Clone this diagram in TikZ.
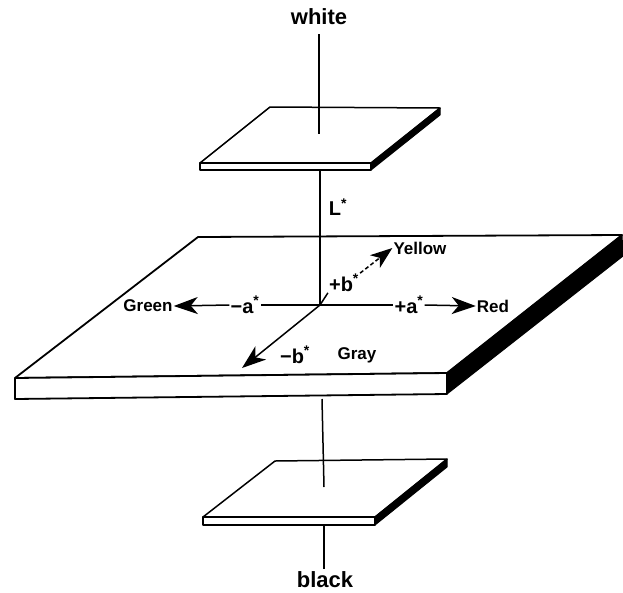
\documentclass[tikz,border=0pt]{standalone}
\usepackage{fontspec}
\setmainfont{Liberation Sans}
\usetikzlibrary{arrows.meta}
\begin{document}
\begin{tikzpicture}[x=1pt,y=-1pt,
  plate/.style={draw=black,line width=1.5pt,fill=white,line join=round},
  bigplate/.style={draw=black,line width=1.8pt,fill=white,line join=round},
  side/.style={draw=black,line width=1pt,fill=black,line join=round},
  pole/.style={line width=1.5pt},
  axis/.style={line width=1.5pt},
  arr/.style={line width=1.5pt,-{Stealth[length=24pt,width=17pt,inset=7pt]}},
  darr/.style={line width=1.5pt,dash pattern=on 4pt off 2.5pt,-{Stealth[length=22pt,width=16pt,inset=6pt]}},
  lbl/.style={font=\bfseries\fontsize{17}{17}\selectfont,inner sep=1pt},
  albl/.style={font=\bfseries\fontsize{20}{20}\selectfont,inner sep=1pt},
  polelbl/.style={font=\bfseries\fontsize{22}{22}\selectfont,inner sep=1pt}
]
\useasboundingbox (0,0) rectangle (623,592);

% ---------- top plate ----------
\coordinate (tBL) at (270,107);
\coordinate (tBR) at (440,108);
\coordinate (tFR) at (371,163);
\coordinate (tFL) at (200,163);
\coordinate (tFRb) at (371,170);
\coordinate (tFLb) at (200,170);
\coordinate (tBRb) at (440,115);
\draw[plate] (tBL) -- (tBR) -- (tFR) -- (tFL) -- cycle;
\draw[plate] (tFL) -- (tFR) -- (tFRb) -- (tFLb) -- cycle;
\draw[side] (tFR) -- (tBR) -- (tBRb) -- (tFRb) -- cycle;

% ---------- big plate ----------
\coordinate (bBL) at (198,237);
\coordinate (bBR) at (622,235);
\coordinate (bFR) at (447,373);
\coordinate (bFL) at (15,378);
\coordinate (bFRb) at (447,394);
\coordinate (bFLb) at (15,399);
\coordinate (bBRb) at (623,256);
\draw[bigplate] (bBL) -- (bBR) -- (bFR) -- (bFL) -- cycle;
\draw[bigplate] (bFL) -- (bFR) -- (bFRb) -- (bFLb) -- cycle;
\draw[side] (bFR) -- (bBR) -- (bBRb) -- (bFRb) -- cycle;

% ---------- bottom plate ----------
\coordinate (lBL) at (275,461);
\coordinate (lBR) at (447,459);
\coordinate (lFR) at (375,517);
\coordinate (lFL) at (203,517);
\coordinate (lFRb) at (375,525);
\coordinate (lFLb) at (203,525);
\coordinate (lBRb) at (447,467);
\draw[plate] (lBL) -- (lBR) -- (lFR) -- (lFL) -- cycle;
\draw[plate] (lFL) -- (lFR) -- (lFRb) -- (lFLb) -- cycle;
\draw[side] (lFR) -- (lBR) -- (lBRb) -- (lFRb) -- cycle;

% ---------- pole labels ----------
\node[polelbl] (white) at (319,17) {white};
\node[polelbl] (black) at (325,580) {black};
\node[albl] (L) at (338,207) {L\textsuperscript{*}};

% ---------- L* axis ----------
\coordinate (O) at (320,305);
\coordinate (wT) at (319,34);
\coordinate (tC) at (319,134);
\coordinate (tU) at (320,170);
\coordinate (bU) at (322,399);
\coordinate (lC) at (324,487);
\coordinate (lU) at (324,525);
\coordinate (kB) at (324,569);
\draw[pole] (wT) -- (tC);
\draw[pole] (tU) -- (O);
\draw[pole] (bU) -- (lC);
\draw[pole] (lU) -- (kB);

% ---------- labels on the big plate ----------
\node[lbl] (green) at (148,306) {Green};
\node[lbl] (red) at (493,306) {Red};
\node[lbl] (yellow) at (420,248) {Yellow};
\node[lbl] (gray) at (357,355) {Gray};
\node[albl] (ma) at (245,305) {−a\textsuperscript{*}};
\node[albl] (pa) at (409,305) {+a\textsuperscript{*}};
\node[albl] (pb) at (344,283) {+b\textsuperscript{*}};
\node[albl] (mb) at (295,355) {−b\textsuperscript{*}};

% ---------- a*, b* axes ----------
\coordinate (mbtip) at (242,368);
\draw[axis] (O) -- (ma.east);
\draw[arr] (ma.west) -- (green.east);
\draw[axis] (O) -- (pa.west);
\draw[arr] (pa.east) -- (red.west);
\draw[axis] (O) -- (pb.south west);
\draw[darr] (pb.north east) -- (yellow.west);
\draw[arr] (O) -- (mbtip);
\end{tikzpicture}
\end{document}
